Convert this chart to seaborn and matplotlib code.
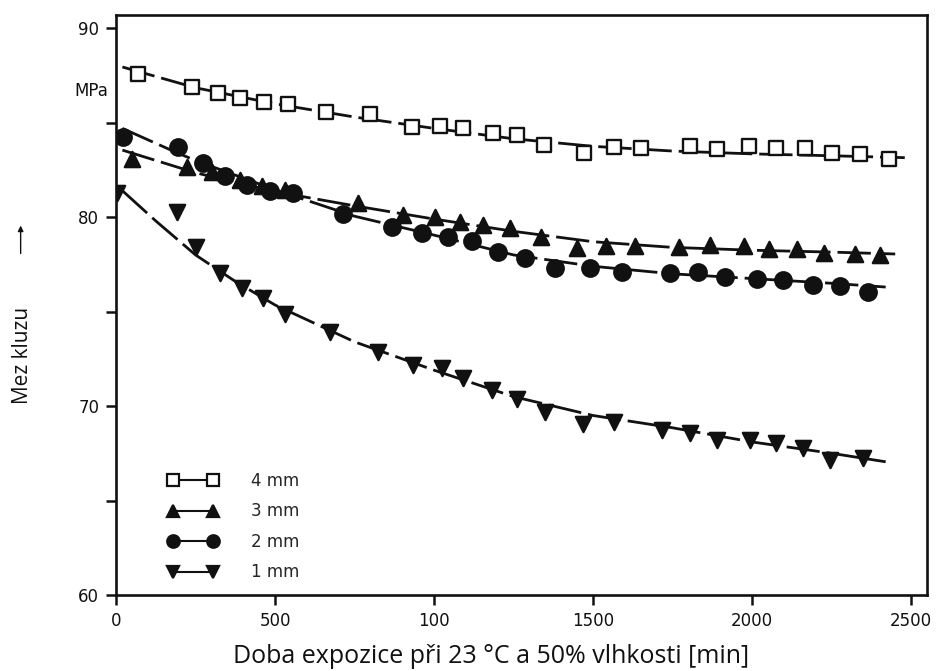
import matplotlib
matplotlib.use('Agg')
import matplotlib.pyplot as plt
from matplotlib.lines import Line2D
import seaborn as sns
import pandas as pd

t_4mm = [70, 240, 320, 390, 465, 540, 660, 800, 930, 1020, 1090, 1185, 1260,
         1345, 1470, 1565, 1650, 1805, 1890, 1990, 2075, 2165, 2250, 2340, 2430]
y_4mm = [87.6, 86.9, 86.55, 86.3, 86.1, 86.0, 85.55, 85.45, 84.75, 84.8, 84.7, 84.45, 84.35,
         83.8, 83.4, 83.7, 83.65, 83.75, 83.6, 83.75, 83.65, 83.65, 83.4, 83.35, 83.1]

t_3mm = [50, 223, 302, 390, 459, 531, 761, 903, 1003, 1082, 1154, 1239,
         1337, 1450, 1541, 1632, 1771, 1868, 1975, 2054, 2142, 2227, 2324, 2403]
y_3mm = [83.1, 82.65, 82.4, 81.95, 81.65, 81.45, 80.75, 80.1, 80.0, 79.75, 79.6, 79.4,
         78.95, 78.35, 78.45, 78.45, 78.4, 78.5, 78.45, 78.3, 78.3, 78.1, 78.05, 78.0]

t_2mm = [22, 195, 274, 343, 412, 484, 557, 714, 868, 962, 1044, 1120, 1201,
         1286, 1381, 1491, 1591, 1742, 1830, 1915, 2016, 2098, 2192, 2277, 2365]
y_2mm = [84.25, 83.7, 82.85, 82.2, 81.7, 81.4, 81.3, 80.15, 79.5, 79.15, 78.95, 78.75, 78.15,
         77.85, 77.3, 77.3, 77.1, 77.05, 77.1, 76.85, 76.75, 76.65, 76.4, 76.35, 76.05]

t_1mm = [3, 192, 252, 327, 396, 462, 531, 673, 824, 934, 1025, 1091, 1183,
         1261, 1349, 1469, 1566, 1717, 1805, 1890, 1994, 2076, 2161, 2246, 2349]
y_1mm = [81.3, 80.25, 78.4, 77.05, 76.25, 75.7, 74.9, 73.9, 72.85, 72.15, 72.0, 71.5, 70.85,
         70.4, 69.7, 69.05, 69.15, 68.75, 68.6, 68.2, 68.2, 68.05, 67.8, 67.15, 67.25]

# fitted curves as drawn in the picture
ct_4mm = [20, 250, 500, 750, 1000, 1250, 1500, 1750, 2000, 2250, 2480]
cy_4mm = [87.95, 86.85, 86.0, 85.3, 84.7, 84.15, 83.75, 83.5, 83.35, 83.25, 83.15]

ct_3mm = [20, 250, 500, 750, 1000, 1250, 1500, 1750, 2000, 2250, 2450]
cy_3mm = [83.55, 82.35, 81.35, 80.6, 79.9, 79.25, 78.7, 78.4, 78.25, 78.15, 78.05]

ct_2mm = [20, 186, 250, 500, 750, 1000, 1250, 1500, 1750, 2000, 2250, 2420]
cy_2mm = [84.7, 83.45, 83.0, 81.45, 80.05, 79.05, 78.0, 77.4, 77.0, 76.75, 76.5, 76.3]

ct_1mm = [20, 125, 250, 375, 500, 750, 1000, 1250, 1500, 1750, 2000, 2250, 2420]
cy_1mm = [81.4, 79.8, 78.0, 76.6, 75.35, 73.4, 71.9, 70.5, 69.5, 68.85, 68.1, 67.5, 67.05]

x_ticks = [0, 500, 1000, 1500, 2000, 2500]
x_tick_labels = ["0", "500", "100", "1500", "2000", "2500"]
y_ticks = [60, 70, 80, 90]
labels = ["4 mm", "3 mm", "2 mm", "1 mm"]

sns.set_style("ticks")
plt.rcParams['font.family'] = ['Liberation Sans Narrow', 'DejaVu Sans']

fig = plt.figure(figsize=(9.38, 6.71), dpi=100)
ax = fig.add_axes([0.1237, 0.1133, 0.8646, 0.8643])

ink = '#111111'
line_style = (0, (12, 2.5))

series = [
    (ct_4mm, cy_4mm, t_4mm, y_4mm, 's', 100, 'white'),
    (ct_3mm, cy_3mm, t_3mm, y_3mm, '^', 120, ink),
    (ct_2mm, cy_2mm, t_2mm, y_2mm, 'o', 140, ink),
    (ct_1mm, cy_1mm, t_1mm, y_1mm, 'v', 120, ink),
]

for ct, cy, t, y, mk, size, face in series:
    curve = pd.DataFrame({'t': ct, 'y': cy})
    sns.lineplot(data=curve, x='t', y='y', color=ink, linewidth=2.0,
                 linestyle=line_style, errorbar=None, ax=ax, zorder=2)
    pts = pd.DataFrame({'t': t, 'y': y})
    sns.scatterplot(data=pts, x='t', y='y', marker=mk, s=size, color=face,
                    edgecolor=ink, linewidth=1.7, ax=ax, zorder=3)

ax.set_xlim(0, 2550)
ax.set_ylim(60, 90.7)
ax.set_xticks(x_ticks)
ax.set_xticklabels(x_tick_labels)
ax.set_yticks(y_ticks)
ax.set_yticks([65, 75, 85], minor=True)
ax.tick_params(axis='both', which='both', direction='out', length=7, width=1.8,
               color=ink, labelsize=12, labelcolor=ink, pad=5)
for side in ax.spines.values():
    side.set_linewidth(1.9)
    side.set_color(ink)
    side.set_visible(True)

ax.set_xlabel("Doba expozice při 23 °C a 50% vlhkosti [min]", family=['Open Sans', 'DejaVu Sans'],
              fontsize=18, color=ink)
ax.xaxis.set_label_coords(0.462, -0.085)
ax.set_ylabel("")
fig.text(0.024, 0.47, "Mez kluzu", rotation=90, family=['Open Sans', 'DejaVu Sans'],
         fontsize=15, color=ink, ha='center', va='center')
ax.annotate("", xy=(0.022, 0.668), xytext=(0.022, 0.618), xycoords='figure fraction',
            arrowprops=dict(arrowstyle='-|>', color=ink, lw=1.0, mutation_scale=8))
ax.text(-0.01, 86.7, "MPa", transform=ax.get_yaxis_transform(), ha='right', va='center',
        fontsize=12, color=ink)

markers = [('s', 'white'), ('^', ink), ('o', ink), ('v', ink)]
handles = [Line2D([0], [0], color=ink, lw=1.5, marker=m, markersize=9,
                  markerfacecolor=f, markeredgecolor=ink, markeredgewidth=1.6)
           for m, f in markers]
ax.legend(handles, labels, loc='upper left', bbox_to_anchor=(0.045, 0.238), frameon=False,
          numpoints=2, handlelength=3.0, handletextpad=2.0, labelspacing=0.75, fontsize=12)

plt.savefig('out.png', dpi=100)
